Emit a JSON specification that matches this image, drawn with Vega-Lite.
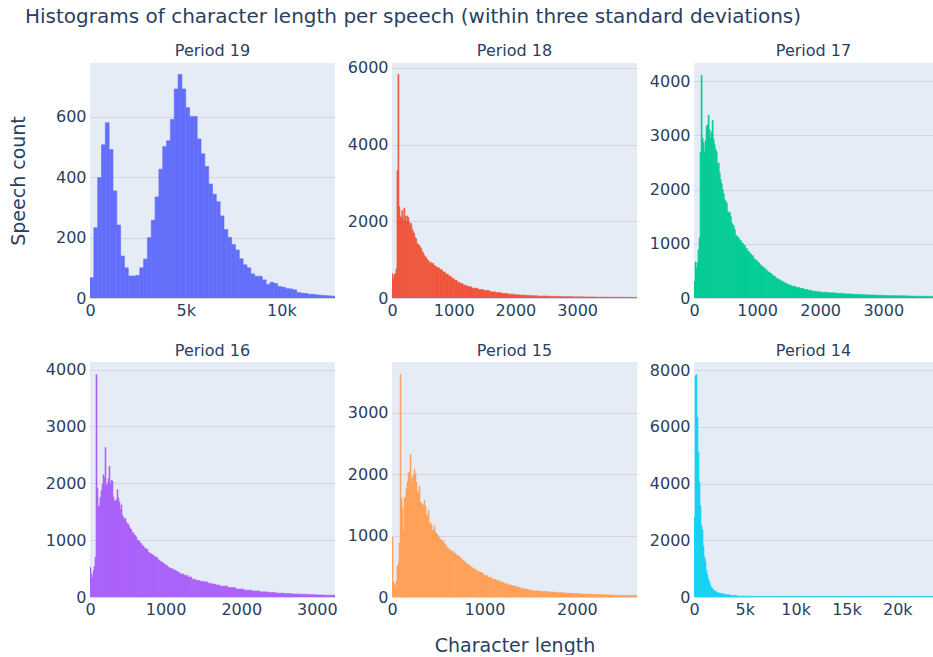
{
 "$schema": "https://vega.github.io/schema/vega-lite/v6.json",
 "padding": {"left": 9, "top": 6, "right": 0, "bottom": 0},
 "background": "white",
 "title": {"text": "Histograms of character length per speech (within three standard deviations)", "anchor": "start", "frame": "group", "dx": -65, "fontSize": 20, "fontWeight": "normal", "color": "#2a3f5f", "font": "DejaVu Sans", "offset": 16},
 "datasets": {
  "p19": [
   {"a":0,"b":200,"n":67},{"a":200,"b":400,"n":233},{"a":400,"b":600,"n":399},{"a":600,"b":800,"n":508},{"a":800,"b":1000,"n":581},{"a":1000,"b":1200,"n":492},{"a":1200,"b":1400,"n":355},{"a":1400,"b":1600,"n":242},{"a":1600,"b":1800,"n":139},{"a":1800,"b":2000,"n":100},
   {"a":2000,"b":2200,"n":73},{"a":2200,"b":2400,"n":73},{"a":2400,"b":2600,"n":75},{"a":2600,"b":2800,"n":100},{"a":2800,"b":3000,"n":129},{"a":3000,"b":3200,"n":200},{"a":3200,"b":3400,"n":258},{"a":3400,"b":3600,"n":335},{"a":3600,"b":3800,"n":427},{"a":3800,"b":4000,"n":502},
   {"a":4000,"b":4200,"n":521},{"a":4200,"b":4400,"n":592},{"a":4400,"b":4600,"n":693},{"a":4600,"b":4800,"n":741},{"a":4800,"b":5000,"n":693},{"a":5000,"b":5200,"n":631},{"a":5200,"b":5400,"n":602},{"a":5400,"b":5600,"n":602},{"a":5600,"b":5800,"n":527},{"a":5800,"b":6000,"n":478},
   {"a":6000,"b":6200,"n":436},{"a":6200,"b":6400,"n":378},{"a":6400,"b":6600,"n":344},{"a":6600,"b":6800,"n":319},{"a":6800,"b":7000,"n":272},{"a":7000,"b":7200,"n":227},{"a":7200,"b":7400,"n":201},{"a":7400,"b":7600,"n":177},{"a":7600,"b":7800,"n":159},{"a":7800,"b":8000,"n":130},
   {"a":8000,"b":8200,"n":110},{"a":8200,"b":8400,"n":100},{"a":8400,"b":8600,"n":80},{"a":8600,"b":8800,"n":72},{"a":8800,"b":9000,"n":72},{"a":9000,"b":9200,"n":60},{"a":9200,"b":9400,"n":45},{"a":9400,"b":9600,"n":52},{"a":9600,"b":9800,"n":48},{"a":9800,"b":10000,"n":38},
   {"a":10000,"b":10200,"n":36},{"a":10200,"b":10400,"n":31},{"a":10400,"b":10600,"n":30},{"a":10600,"b":10800,"n":27},{"a":10800,"b":11000,"n":18},{"a":11000,"b":11200,"n":16},{"a":11200,"b":11400,"n":15},{"a":11400,"b":11600,"n":12},{"a":11600,"b":11800,"n":12},{"a":11800,"b":12000,"n":10},
   {"a":12000,"b":12200,"n":9},{"a":12200,"b":12400,"n":8},{"a":12400,"b":12600,"n":7},{"a":12600,"b":12800,"n":6}
  ],
  "p18": [
   {"a":0,"b":16,"n":630},{"a":16,"b":32,"n":500},{"a":32,"b":48,"n":610},{"a":48,"b":64,"n":640},{"a":64,"b":80,"n":760},{"a":80,"b":96,"n":3320},{"a":96,"b":112,"n":5830},{"a":112,"b":128,"n":2380},{"a":128,"b":144,"n":2120},{"a":144,"b":160,"n":2100},
   {"a":160,"b":176,"n":2280},{"a":176,"b":192,"n":2020},{"a":192,"b":208,"n":2350},{"a":208,"b":224,"n":2140},{"a":224,"b":240,"n":2010},{"a":240,"b":256,"n":2140},{"a":256,"b":272,"n":2100},{"a":272,"b":288,"n":1980},{"a":288,"b":304,"n":1880},{"a":304,"b":320,"n":1940},
   {"a":320,"b":336,"n":1790},{"a":336,"b":352,"n":1730},{"a":352,"b":368,"n":1690},{"a":368,"b":384,"n":1570},{"a":384,"b":400,"n":1545},{"a":400,"b":416,"n":1420},{"a":416,"b":432,"n":1405},{"a":432,"b":448,"n":1370},{"a":448,"b":464,"n":1335},{"a":464,"b":480,"n":1290},
   {"a":480,"b":496,"n":1220},{"a":496,"b":512,"n":1180},{"a":512,"b":528,"n":1125},{"a":528,"b":544,"n":1075},{"a":544,"b":560,"n":1065},{"a":560,"b":576,"n":1005},{"a":576,"b":592,"n":985},{"a":592,"b":608,"n":950},{"a":608,"b":624,"n":900},{"a":624,"b":640,"n":930},
   {"a":640,"b":656,"n":880},{"a":656,"b":672,"n":905},{"a":672,"b":688,"n":860},{"a":688,"b":704,"n":840},{"a":704,"b":720,"n":820},
   {"a":720,"b":768,"n":790},{"a":768,"b":816,"n":740},{"a":816,"b":864,"n":680},{"a":864,"b":912,"n":625},{"a":912,"b":960,"n":570},{"a":960,"b":1008,"n":510},{"a":1008,"b":1056,"n":460},{"a":1056,"b":1104,"n":410},{"a":1104,"b":1152,"n":375},{"a":1152,"b":1200,"n":335},{"a":1200,"b":1248,"n":310},{"a":1248,"b":1296,"n":290},
   {"a":1296,"b":1392,"n":255},{"a":1392,"b":1488,"n":220},{"a":1488,"b":1584,"n":195},{"a":1584,"b":1680,"n":160},{"a":1680,"b":1776,"n":140},{"a":1776,"b":1872,"n":120},{"a":1872,"b":1968,"n":100},{"a":1968,"b":2064,"n":85},{"a":2064,"b":2160,"n":75},{"a":2160,"b":2256,"n":68},{"a":2256,"b":2352,"n":60},
   {"a":2352,"b":2544,"n":50},{"a":2544,"b":2736,"n":42},{"a":2736,"b":2928,"n":35},{"a":2928,"b":3120,"n":30},{"a":3120,"b":3312,"n":26},{"a":3312,"b":3504,"n":22},{"a":3504,"b":3696,"n":20},{"a":3696,"b":3888,"n":17},{"a":3888,"b":3970,"n":15}
  ],
  "p17": [
   {"a":0,"b":16,"n":307},{"a":16,"b":32,"n":664},{"a":32,"b":48,"n":553},{"a":48,"b":64,"n":657},{"a":64,"b":80,"n":890},{"a":80,"b":96,"n":1106},{"a":96,"b":112,"n":2685},{"a":112,"b":128,"n":4104},{"a":128,"b":144,"n":2950},{"a":144,"b":160,"n":2870},
   {"a":160,"b":176,"n":2700},{"a":176,"b":192,"n":2900},{"a":192,"b":208,"n":3164},{"a":208,"b":224,"n":3195},{"a":224,"b":240,"n":3367},{"a":240,"b":256,"n":3100},{"a":256,"b":272,"n":2950},{"a":272,"b":288,"n":3060},{"a":288,"b":304,"n":3275},{"a":304,"b":320,"n":2930},
   {"a":320,"b":336,"n":2826},{"a":336,"b":352,"n":2734},{"a":352,"b":368,"n":2697},{"a":368,"b":384,"n":2470},{"a":384,"b":400,"n":2490},{"a":400,"b":416,"n":2304},{"a":416,"b":432,"n":2181},{"a":432,"b":448,"n":2107},{"a":448,"b":464,"n":1997},{"a":464,"b":480,"n":1923},
   {"a":480,"b":496,"n":1812},{"a":496,"b":512,"n":1782},{"a":512,"b":528,"n":1751},{"a":528,"b":544,"n":1597},{"a":544,"b":560,"n":1567},{"a":560,"b":576,"n":1579},{"a":576,"b":592,"n":1505},{"a":592,"b":608,"n":1382},{"a":608,"b":624,"n":1352},{"a":624,"b":640,"n":1321},{"a":640,"b":656,"n":1260},
   {"a":656,"b":688,"n":1150},{"a":688,"b":720,"n":1110},{"a":720,"b":752,"n":1060},{"a":752,"b":784,"n":1010},{"a":784,"b":816,"n":970},{"a":816,"b":848,"n":910},{"a":848,"b":880,"n":860},{"a":880,"b":912,"n":815},{"a":912,"b":944,"n":780},{"a":944,"b":976,"n":720},
   {"a":976,"b":1008,"n":690},{"a":1008,"b":1040,"n":650},{"a":1040,"b":1072,"n":610},{"a":1072,"b":1104,"n":575},{"a":1104,"b":1136,"n":550},{"a":1136,"b":1168,"n":510},{"a":1168,"b":1200,"n":480},{"a":1200,"b":1232,"n":455},{"a":1232,"b":1264,"n":420},{"a":1264,"b":1296,"n":395},
   {"a":1296,"b":1328,"n":360},{"a":1328,"b":1360,"n":345},{"a":1360,"b":1392,"n":320},{"a":1392,"b":1424,"n":300},{"a":1424,"b":1456,"n":280},{"a":1456,"b":1488,"n":260},{"a":1488,"b":1520,"n":245},{"a":1520,"b":1552,"n":232},
   {"a":1552,"b":1616,"n":215},{"a":1616,"b":1680,"n":195},{"a":1680,"b":1744,"n":175},{"a":1744,"b":1808,"n":155},{"a":1808,"b":1872,"n":140},{"a":1872,"b":1936,"n":125},{"a":1936,"b":2000,"n":115},
   {"a":2000,"b":2128,"n":105},{"a":2128,"b":2256,"n":95},{"a":2256,"b":2384,"n":85},{"a":2384,"b":2512,"n":75},{"a":2512,"b":2640,"n":68},{"a":2640,"b":2768,"n":60},{"a":2768,"b":2896,"n":55},{"a":2896,"b":3024,"n":50},{"a":3024,"b":3152,"n":45},{"a":3152,"b":3280,"n":42},{"a":3280,"b":3408,"n":40},{"a":3408,"b":3536,"n":35},{"a":3536,"b":3664,"n":32},{"a":3664,"b":3792,"n":30},{"a":3792,"b":3883,"n":28}
  ],
  "p16": [
   {"a":0,"b":13,"n":520},{"a":13,"b":26,"n":400},{"a":26,"b":40,"n":340},{"a":40,"b":53,"n":460},{"a":53,"b":66,"n":540},{"a":66,"b":79,"n":700},{"a":79,"b":93,"n":3910},{"a":93,"b":106,"n":1910},{"a":106,"b":119,"n":1580},{"a":119,"b":132,"n":1610},
   {"a":132,"b":145,"n":1750},{"a":145,"b":159,"n":1870},{"a":159,"b":172,"n":1980},{"a":172,"b":185,"n":2150},{"a":185,"b":198,"n":2100},{"a":198,"b":212,"n":2630},{"a":212,"b":225,"n":1960},{"a":225,"b":238,"n":2000},{"a":238,"b":251,"n":2080},{"a":251,"b":264,"n":2300},
   {"a":264,"b":278,"n":1990},{"a":278,"b":291,"n":2050},{"a":291,"b":304,"n":2040},{"a":304,"b":317,"n":1760},{"a":317,"b":331,"n":1680},{"a":331,"b":344,"n":1700},{"a":344,"b":357,"n":1710},{"a":357,"b":370,"n":1890},{"a":370,"b":383,"n":1740},{"a":383,"b":397,"n":1670},
   {"a":397,"b":410,"n":1540},{"a":410,"b":423,"n":1620},{"a":423,"b":436,"n":1440},{"a":436,"b":449,"n":1400},{"a":449,"b":463,"n":1370},{"a":463,"b":476,"n":1380},{"a":476,"b":489,"n":1310},{"a":489,"b":502,"n":1290},{"a":502,"b":516,"n":1280},{"a":516,"b":529,"n":1230},
   {"a":529,"b":542,"n":1200},{"a":542,"b":555,"n":1180},{"a":555,"b":568,"n":1120},{"a":568,"b":582,"n":1130},{"a":582,"b":595,"n":1090},{"a":595,"b":608,"n":1080},{"a":608,"b":621,"n":1050},{"a":621,"b":635,"n":1000},{"a":635,"b":648,"n":990},{"a":648,"b":661,"n":980},
   {"a":661,"b":687,"n":940},{"a":687,"b":714,"n":900},{"a":714,"b":740,"n":860},{"a":740,"b":767,"n":840},{"a":767,"b":793,"n":780},{"a":793,"b":820,"n":760},{"a":820,"b":846,"n":740},{"a":846,"b":873,"n":710},{"a":873,"b":899,"n":690},{"a":899,"b":925,"n":650},
   {"a":925,"b":952,"n":620},{"a":952,"b":978,"n":600},{"a":978,"b":1005,"n":570},{"a":1005,"b":1031,"n":550},{"a":1031,"b":1058,"n":520},{"a":1058,"b":1084,"n":500},{"a":1084,"b":1110,"n":490},{"a":1110,"b":1137,"n":470},{"a":1137,"b":1163,"n":450},{"a":1163,"b":1190,"n":430},
   {"a":1190,"b":1243,"n":405},{"a":1243,"b":1296,"n":380},{"a":1296,"b":1348,"n":350},{"a":1348,"b":1401,"n":310},{"a":1401,"b":1454,"n":290},{"a":1454,"b":1507,"n":275},{"a":1507,"b":1560,"n":265},{"a":1560,"b":1613,"n":240},{"a":1613,"b":1666,"n":225},{"a":1666,"b":1719,"n":210},
   {"a":1719,"b":1824,"n":190},{"a":1824,"b":1930,"n":165},{"a":1930,"b":2036,"n":140},{"a":2036,"b":2142,"n":120},{"a":2142,"b":2247,"n":105},{"a":2247,"b":2353,"n":90},{"a":2353,"b":2459,"n":80},{"a":2459,"b":2565,"n":68},{"a":2565,"b":2670,"n":60},{"a":2670,"b":2776,"n":52},{"a":2776,"b":2882,"n":48},{"a":2882,"b":2988,"n":42},{"a":2988,"b":3093,"n":36},{"a":3093,"b":3240,"n":32}
  ],
  "p15": [
   {"a":0,"b":11,"n":975},{"a":11,"b":22,"n":240},{"a":22,"b":32,"n":210},{"a":32,"b":43,"n":175},{"a":43,"b":54,"n":265},{"a":54,"b":65,"n":500},{"a":65,"b":76,"n":550},{"a":76,"b":87,"n":875},{"a":87,"b":97,"n":3620},{"a":97,"b":108,"n":1610},
   {"a":108,"b":119,"n":1440},{"a":119,"b":130,"n":1080},{"a":130,"b":141,"n":1620},{"a":141,"b":151,"n":1610},{"a":151,"b":162,"n":1760},{"a":162,"b":173,"n":1870},{"a":173,"b":184,"n":2020},{"a":184,"b":195,"n":2030},{"a":195,"b":206,"n":2320},{"a":206,"b":216,"n":1870},
   {"a":216,"b":227,"n":1950},{"a":227,"b":238,"n":1980},{"a":238,"b":249,"n":2070},{"a":249,"b":260,"n":2000},{"a":260,"b":271,"n":1870},{"a":271,"b":281,"n":1710},{"a":281,"b":292,"n":1680},{"a":292,"b":303,"n":1800},{"a":303,"b":314,"n":1540},{"a":314,"b":325,"n":1520},
   {"a":325,"b":335,"n":1510},{"a":335,"b":346,"n":1490},{"a":346,"b":357,"n":1570},{"a":357,"b":368,"n":1470},{"a":368,"b":379,"n":1330},{"a":379,"b":390,"n":1320},{"a":390,"b":400,"n":1410},{"a":400,"b":411,"n":1200},{"a":411,"b":422,"n":1210},{"a":422,"b":433,"n":1170},
   {"a":433,"b":444,"n":1080},{"a":444,"b":454,"n":1100},{"a":454,"b":465,"n":1160},{"a":465,"b":476,"n":1060},{"a":476,"b":487,"n":1030},{"a":487,"b":498,"n":1010},{"a":498,"b":509,"n":990},{"a":509,"b":519,"n":960},{"a":519,"b":530,"n":940},{"a":530,"b":541,"n":930},{"a":541,"b":552,"n":900},{"a":552,"b":563,"n":920},
   {"a":563,"b":584,"n":860},{"a":584,"b":606,"n":810},{"a":606,"b":628,"n":780},{"a":628,"b":649,"n":750},{"a":649,"b":671,"n":740},{"a":671,"b":692,"n":710},{"a":692,"b":714,"n":680},{"a":714,"b":736,"n":660},{"a":736,"b":757,"n":630},{"a":757,"b":779,"n":600},
   {"a":779,"b":801,"n":570},{"a":801,"b":822,"n":540},{"a":822,"b":844,"n":520},{"a":844,"b":866,"n":490},{"a":866,"b":887,"n":470},{"a":887,"b":909,"n":450},{"a":909,"b":931,"n":430},{"a":931,"b":952,"n":410},{"a":952,"b":974,"n":400},{"a":974,"b":995,"n":380},
   {"a":995,"b":1039,"n":350},{"a":1039,"b":1082,"n":320},{"a":1082,"b":1125,"n":290},{"a":1125,"b":1169,"n":265},{"a":1169,"b":1212,"n":240},{"a":1212,"b":1255,"n":215},{"a":1255,"b":1298,"n":195},{"a":1298,"b":1342,"n":180},{"a":1342,"b":1385,"n":160},{"a":1385,"b":1428,"n":140},{"a":1428,"b":1472,"n":128},{"a":1472,"b":1515,"n":115},
   {"a":1515,"b":1601,"n":100},{"a":1601,"b":1688,"n":90},{"a":1688,"b":1774,"n":80},{"a":1774,"b":1861,"n":72},{"a":1861,"b":1948,"n":62},{"a":1948,"b":2034,"n":55},{"a":2034,"b":2121,"n":48},{"a":2121,"b":2207,"n":44},{"a":2207,"b":2294,"n":40},{"a":2294,"b":2380,"n":35},{"a":2380,"b":2467,"n":30},{"a":2467,"b":2554,"n":27},{"a":2554,"b":2650,"n":24}
  ],
  "p14": [
   {"a":0,"b":98,"n":2800},{"a":98,"b":197,"n":7800},{"a":197,"b":295,"n":7850},{"a":295,"b":394,"n":6350},{"a":394,"b":492,"n":5100},{"a":492,"b":590,"n":4050},{"a":590,"b":689,"n":3220},{"a":689,"b":787,"n":2510},{"a":787,"b":886,"n":2360},{"a":886,"b":984,"n":1800},
   {"a":984,"b":1082,"n":1410},{"a":1082,"b":1181,"n":1270},{"a":1181,"b":1279,"n":935},{"a":1279,"b":1378,"n":790},{"a":1378,"b":1476,"n":615},{"a":1476,"b":1574,"n":530},{"a":1574,"b":1673,"n":415},{"a":1673,"b":1771,"n":345},{"a":1771,"b":1870,"n":290},{"a":1870,"b":1968,"n":255},
   {"a":1968,"b":2066,"n":220},{"a":2066,"b":2165,"n":200},{"a":2165,"b":2263,"n":180},{"a":2263,"b":2362,"n":165},{"a":2362,"b":2657,"n":140},{"a":2657,"b":3050,"n":110},{"a":3050,"b":3542,"n":80},{"a":3542,"b":4231,"n":55},{"a":4231,"b":5510,"n":30},{"a":5510,"b":7872,"n":22},{"a":7872,"b":24100,"n":20}
  ]
 },
 "columns": 3,
 "spacing": {"row": 64, "column": 57},
 "bounds": "flush",
 "concat": [
    {
     "width": 245, "height": 235,
     "title": {"text": "Period 19", "offset": 4},
     "data": {"name": "p19"},
     "mark": {"type": "rect", "color": "#636efa", "stroke": "#636efa", "strokeWidth": 0.6, "clip": true},
     "encoding": {
      "x": {"field": "a", "type": "quantitative", "scale": {"domain": [0, 12800], "nice": false, "zero": false}, "axis": {"values": [0, 5000, 10000], "labelExpr": "datum.value == 0 ? '0' : (datum.value / 1000) + 'k'", "title": null}},
      "x2": {"field": "b"},
      "y": {"field": "n", "type": "quantitative", "scale": {"domain": [0, 779], "nice": false}, "axis": {"values": [0, 200, 400, 600], "format": "d", "title": "Speech count", "titlePadding": 27}},
      "y2": {"datum": 0}
     }
    },
    {
     "width": 245, "height": 235,
     "title": {"text": "Period 18", "offset": 1},
     "data": {"name": "p18"},
     "mark": {"type": "rect", "color": "#EF553B", "stroke": "#EF553B", "strokeWidth": 0.6, "clip": true},
     "encoding": {
      "x": {"field": "a", "type": "quantitative", "scale": {"domain": [0, 3970], "nice": false, "zero": false}, "axis": {"values": [0, 1000, 2000, 3000], "format": "d", "title": null}},
      "x2": {"field": "b"},
      "y": {"field": "n", "type": "quantitative", "scale": {"domain": [0, 6128], "nice": false}, "axis": {"values": [0, 2000, 4000, 6000], "format": "d", "title": null}},
      "y2": {"datum": 0}
     }
    },
    {
     "width": 239, "height": 235,
     "title": {"text": "Period 17", "offset": 4},
     "data": {"name": "p17"},
     "mark": {"type": "rect", "color": "#00cc96", "stroke": "#00cc96", "strokeWidth": 0.6, "clip": true},
     "encoding": {
      "x": {"field": "a", "type": "quantitative", "scale": {"domain": [0, 3788], "nice": false, "zero": false}, "axis": {"values": [0, 1000, 2000, 3000], "format": "d", "title": null}},
      "x2": {"field": "b"},
      "y": {"field": "n", "type": "quantitative", "scale": {"domain": [0, 4332], "nice": false}, "axis": {"values": [0, 1000, 2000, 3000, 4000], "format": "d", "title": null}},
      "y2": {"datum": 0}
     }
    },
    {
     "width": 245, "height": 235,
     "title": {"text": "Period 16", "offset": 3},
     "data": {"name": "p16"},
     "mark": {"type": "rect", "color": "#ab63fa", "stroke": "#ab63fa", "strokeWidth": 0.6, "clip": true},
     "encoding": {
      "x": {"field": "a", "type": "quantitative", "scale": {"domain": [0, 3240], "nice": false, "zero": false}, "axis": {"values": [0, 1000, 2000, 3000], "format": "d", "title": null}},
      "x2": {"field": "b"},
      "y": {"field": "n", "type": "quantitative", "scale": {"domain": [0, 4134], "nice": false}, "axis": {"values": [0, 1000, 2000, 3000, 4000], "format": "d", "title": null}},
      "y2": {"datum": 0}
     }
    },
    {
     "width": 245, "height": 235,
     "title": {"text": "Period 15", "offset": 3},
     "data": {"name": "p15"},
     "mark": {"type": "rect", "color": "#FFA15A", "stroke": "#FFA15A", "strokeWidth": 0.6, "clip": true},
     "encoding": {
      "x": {"field": "a", "type": "quantitative", "scale": {"domain": [0, 2650], "nice": false, "zero": false}, "axis": {"values": [0, 1000, 2000], "format": "d", "title": "Character length", "titlePadding": 19}},
      "x2": {"field": "b"},
      "y": {"field": "n", "type": "quantitative", "scale": {"domain": [0, 3823], "nice": false}, "axis": {"values": [0, 1000, 2000, 3000], "format": "d", "title": null}},
      "y2": {"datum": 0}
     }
    },
    {
     "width": 239, "height": 235,
     "title": {"text": "Period 14", "offset": 3},
     "data": {"name": "p14"},
     "mark": {"type": "rect", "color": "#19d3f3", "stroke": "#19d3f3", "strokeWidth": 0.6, "clip": true},
     "encoding": {
      "x": {"field": "a", "type": "quantitative", "scale": {"domain": [0, 23510], "nice": false, "zero": false}, "axis": {"values": [0, 5000, 10000, 15000, 20000], "labelExpr": "datum.value == 0 ? '0' : (datum.value / 1000) + 'k'", "title": null}},
      "x2": {"field": "b"},
      "y": {"field": "n", "type": "quantitative", "scale": {"domain": [0, 8293], "nice": false}, "axis": {"values": [0, 2000, 4000, 6000, 8000], "format": "d", "title": null}},
      "y2": {"datum": 0}
     }
    }
 ],
 "config": {
  "font": "DejaVu Sans",
  "view": {"fill": "#E5ECF6", "stroke": null},
  "axis": {"domain": false, "ticks": false, "labelFontSize": 16, "labelColor": "#2a3f5f", "labelFont": "DejaVu Sans", "titleFont": "DejaVu Sans", "titleFontSize": 19, "titleFontWeight": "normal", "titleColor": "#2a3f5f", "labelPadding": 4, "labelFlush": false, "labelOverlap": false, "labelBound": false},
  "axisX": {"grid": false},
  "axisY": {"grid": true, "gridColor": "#d3d6dd", "gridWidth": 1},
  "title": {"fontSize": 16, "fontWeight": "normal", "color": "#2a3f5f", "font": "DejaVu Sans", "offset": 5}
 }
}
